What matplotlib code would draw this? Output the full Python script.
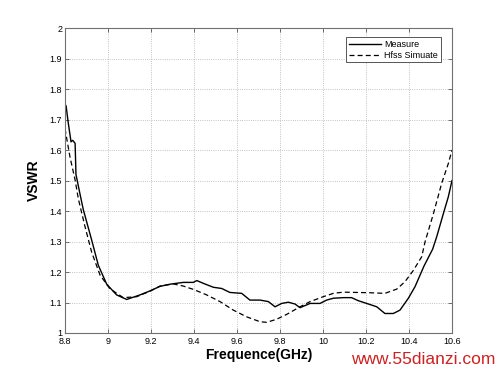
import matplotlib
matplotlib.use("Agg")
import matplotlib.pyplot as plt

plt.rcParams['font.family'] = ['Liberation Sans', 'DejaVu Sans']

# measured VSWR
meas_f = [8.800, 8.805, 8.815, 8.828, 8.836, 8.847, 8.851, 8.870, 8.885, 8.924,
          8.955, 8.994, 9.040, 9.087, 9.149, 9.195, 9.242, 9.288, 9.350, 9.397,
          9.413, 9.443, 9.490, 9.529, 9.567, 9.622, 9.660, 9.707, 9.746, 9.777,
          9.808, 9.839, 9.870, 9.893, 9.940, 9.986, 10.017, 10.048, 10.095, 10.133,
          10.164, 10.203, 10.250, 10.288, 10.327, 10.358, 10.397, 10.428, 10.470,
          10.510, 10.529, 10.560, 10.583, 10.600]
meas_v = [1.750, 1.745, 1.690, 1.627, 1.632, 1.622, 1.520, 1.455, 1.405, 1.305,
          1.222, 1.160, 1.125, 1.110, 1.125, 1.138, 1.153, 1.160, 1.166, 1.166,
          1.172, 1.163, 1.150, 1.146, 1.133, 1.130, 1.108, 1.108, 1.103, 1.086,
          1.097, 1.101, 1.095, 1.083, 1.097, 1.097, 1.108, 1.114, 1.116, 1.116,
          1.106, 1.097, 1.086, 1.064, 1.064, 1.075, 1.114, 1.152, 1.220,
          1.275, 1.316, 1.392, 1.447, 1.500]

# HFSS simulation
sim_f = [8.800, 8.823, 8.847, 8.862, 8.893, 8.924, 8.963, 9.009, 9.071, 9.133,
         9.195, 9.242, 9.304, 9.350, 9.397, 9.459, 9.521, 9.583, 9.645, 9.707,
         9.738, 9.784, 9.831, 9.893, 9.940, 10.001, 10.048, 10.095, 10.157, 10.219,
         10.288, 10.343, 10.381, 10.420, 10.459, 10.475, 10.513, 10.552, 10.583, 10.600]
sim_v = [1.670, 1.578, 1.502, 1.440, 1.349, 1.265, 1.190, 1.145, 1.116, 1.119,
         1.137, 1.154, 1.161, 1.154, 1.143, 1.125, 1.103, 1.075, 1.053, 1.037,
         1.035, 1.045, 1.061, 1.086, 1.103, 1.119, 1.130, 1.134, 1.133, 1.132,
         1.130, 1.144, 1.168, 1.205, 1.250, 1.300, 1.390, 1.491, 1.556, 1.600]

x_ticks = [8.8, 9, 9.2, 9.4, 9.6, 9.8, 10, 10.2, 10.4, 10.6]
x_labels = ['8.8', '9', '9.2', '9.4', '9.6', '9.8', '10', '10.2', '10.4', '10.6']
y_ticks = [1, 1.1, 1.2, 1.3, 1.4, 1.5, 1.6, 1.7, 1.8, 1.9, 2]
y_labels = ['1', '1.1', '1.2', '1.3', '1.4', '1.5', '1.6', '1.7', '1.8', '1.9', '2']

fig = plt.figure(figsize=(5, 3.75), dpi=100)
ax = fig.add_axes([0.13, 0.112, 0.774, 0.813])

ax.plot(meas_f, meas_v, color='black', lw=1.0, ls='-', label='Measure')
ax.plot(sim_f, sim_v, color='black', lw=0.9, ls=(0, (4, 2.5)), label='Hfss Simuate')

ax.set_xlim(8.8, 10.6)
ax.set_ylim(1, 2)
ax.set_xticks(x_ticks)
ax.set_xticklabels(x_labels)
ax.set_yticks(y_ticks)
ax.set_yticklabels(y_labels)
ax.tick_params(direction='in', length=3, width=0.6, labelsize=6.5,
               top=True, right=True, colors='#555555', labelcolor='black')
ax.tick_params(axis='x', pad=3)
ax.tick_params(axis='y', pad=2)
ax.grid(True, ls=':', lw=0.6, color='#b0b0b0')

for s in ax.spines.values():
    s.set_color('#707070')
    s.set_linewidth(0.8)

ax.set_xlabel('Frequence(GHz)', fontsize=10, fontweight='bold', labelpad=1)
ax.set_ylabel('VSWR', fontsize=10, fontweight='bold', labelpad=6)

leg = ax.legend(loc='upper right', fontsize=6.5, handlelength=3.6, handletextpad=0.3,
                borderpad=0.3, labelspacing=0.2, fancybox=False, framealpha=1,
                bbox_to_anchor=(0.982, 0.985))
leg.get_frame().set_edgecolor('#555555')
leg.get_frame().set_linewidth(0.7)

fig.text(0.99, 0.04, 'www.55dianzi.com', color='#d02020', fontsize=12.5,
         ha='right', va='center')

fig.savefig('out.png', dpi=100)
